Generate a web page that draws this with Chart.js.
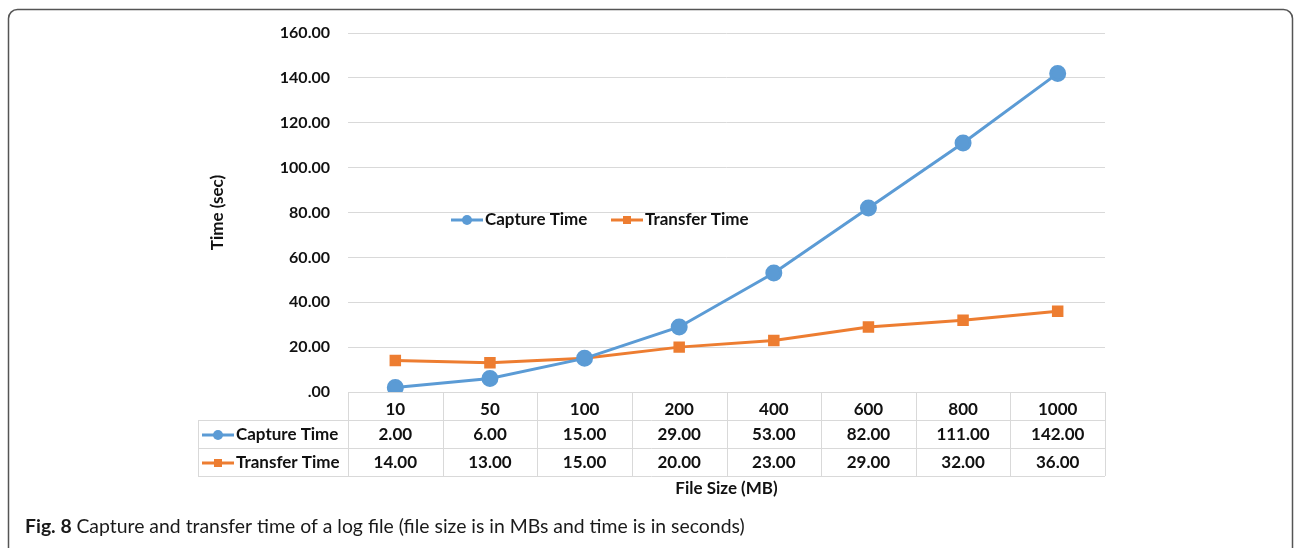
<!DOCTYPE html>
<html>
<head>
<meta charset="utf-8">
<script src="https://cdn.jsdelivr.net/npm/chart.js@4/dist/chart.umd.min.js"></script>
<style>
  body { margin: 0; background: #fff; }
  canvas { display: block; }
</style>
</head>
<body>
<canvas id="timeChart" width="1294" height="548"></canvas>
<script>
// chart data
const fileSizes = ['10', '50', '100', '200', '400', '600', '800', '1000'];
const captureTime = [2, 6, 15, 29, 53, 82, 111, 142];
const transferTime = [14, 13, 15, 20, 23, 29, 32, 36];
const yTicks = [0, 20, 40, 60, 80, 100, 120, 140, 160];

const BLUE = '#5B9BD5';
const ORANGE = '#ED7D31';
const FONT = 'Lato, "Noto Sans", sans-serif';

function fmt(v) {
    return v === 0 ? '.00' : v.toFixed(2);
}

// small legend key: line with marker in the middle
function drawKey(ctx, x, y, ds) {
    ctx.save();
    ctx.strokeStyle = ds.borderColor;
    ctx.lineWidth = 3;
    ctx.beginPath();
    ctx.moveTo(x, y);
    ctx.lineTo(x + 32, y);
    ctx.stroke();
    ctx.fillStyle = ds.borderColor;
    if (ds.pointStyle === 'circle') {
        ctx.beginPath();
        ctx.arc(x + 16, y, 5, 0, Math.PI * 2);
        ctx.fill();
    } else {
        ctx.fillRect(x + 12, y - 4, 8, 8);
    }
    ctx.restore();
}

const tablePlugin = {
    id: 'tablePlugin',
    beforeDraw(chart) {
        const ctx = chart.ctx;
        ctx.save();
        ctx.fillStyle = '#fff';
        ctx.fillRect(0, 0, chart.width, chart.height);
        // outer frame
        ctx.strokeStyle = '#555';
        ctx.lineWidth = 1.5;
        ctx.beginPath();
        ctx.roundRect(8.5, 9.5, 1284, 560, 9);
        ctx.stroke();
        ctx.restore();
    },
    afterDraw(chart) {
        const ctx = chart.ctx;
        const area = chart.chartArea;
        const x = chart.scales.x;
        const half = (x.getPixelForValue(1) - x.getPixelForValue(0)) / 2;
        const rowH = 28;
        const top = area.bottom;
        const labelLeft = 198;

        ctx.save();
        ctx.strokeStyle = '#d9d9d9';
        ctx.lineWidth = 1;
        ctx.beginPath();
        ctx.moveTo(area.left, top + 0.5);
        ctx.lineTo(area.right, top + 0.5);
        for (let r = 1; r <= 3; r++) {
            const yy = Math.round(top + r * rowH) + 0.5;
            ctx.moveTo(labelLeft, yy);
            ctx.lineTo(area.right, yy);
        }
        ctx.moveTo(labelLeft + 0.5, top + rowH);
        ctx.lineTo(labelLeft + 0.5, top + 3 * rowH);
        for (let i = 0; i <= fileSizes.length; i++) {
            const xx = Math.round(x.getPixelForValue(0) - half + i * 2 * half) + 0.5;
            ctx.moveTo(xx, top);
            ctx.lineTo(xx, top + 3 * rowH);
        }
        ctx.stroke();

        // value rows
        ctx.fillStyle = '#111';
        ctx.font = 'bold 17px ' + FONT;
        ctx.textBaseline = 'middle';
        chart.data.datasets.forEach((ds, r) => {
            const cy = top + (r + 1.5) * rowH + 1;
            ctx.textAlign = 'center';
            ds.data.forEach((v, i) => {
                ctx.fillText(fmt(v), x.getPixelForValue(i), cy);
            });
            drawKey(ctx, labelLeft + 4, cy, ds);
            ctx.textAlign = 'left';
            ctx.fillText(ds.label, labelLeft + 38, cy);
        });

        // legend inside plot
        const ly = 220;
        const items = [{ ds: chart.data.datasets[0], x: 451 }, { ds: chart.data.datasets[1], x: 611 }];
        items.forEach(it => {
            drawKey(ctx, it.x, ly, it.ds);
            ctx.textAlign = 'left';
            ctx.fillText(it.ds.label, it.x + 34, ly);
        });

        // caption
        ctx.textAlign = 'left';
        ctx.textBaseline = 'alphabetic';
        ctx.fillStyle = '#1a1a1a';
        ctx.font = 'bold 19.4px ' + FONT;
        ctx.fillText('Fig. 8', 25, 533);
        const w = ctx.measureText('Fig. 8 ').width;
        ctx.font = '19.4px ' + FONT;
        ctx.fillText('Capture and transfer time of a log file (file size is in MBs and time is in seconds)', 25 + w, 533);
        ctx.restore();
    }
};

new Chart(document.getElementById('timeChart').getContext('2d'), {
    type: 'line',
    data: {
        labels: fileSizes,
        datasets: [{
            label: 'Capture Time',
            data: captureTime,
            borderColor: BLUE,
            backgroundColor: BLUE,
            borderWidth: 3,
            pointStyle: 'circle',
            pointRadius: 7,
            pointHoverRadius: 7,
            tension: 0
        }, {
            label: 'Transfer Time',
            data: transferTime,
            borderColor: ORANGE,
            backgroundColor: ORANGE,
            borderWidth: 3,
            pointStyle: 'rect',
            pointRadius: 6,
            pointHoverRadius: 6,
            tension: 0
        }]
    },
    options: {
        responsive: false,
        animation: false,
        layout: { padding: { left: 203, right: 189, top: 33, bottom: 45 } },
        plugins: { legend: { display: false }, tooltip: { enabled: false } },
        scales: {
            x: {
                offset: true,
                grid: { display: false },
                border: { display: false },
                ticks: { color: '#111', font: { family: FONT, size: 17, weight: 'bold' }, padding: -1, maxRotation: 0 },
                title: { display: true, text: 'File Size (MB)', color: '#111', font: { family: FONT, size: 17, weight: 'bold' } },
                afterFit(scale) { scale.height = 111; }
            },
            y: {
                min: 0,
                max: 160,
                afterBuildTicks(scale) { scale.ticks = yTicks.map(v => ({ value: v })); },
                grid: { color: '#d9d9d9', drawTicks: false },
                border: { display: false },
                ticks: { color: '#111', font: { family: FONT, size: 16, weight: 'bold' }, padding: 18, callback: v => fmt(v) },
                title: { display: true, text: 'Time (sec)', color: '#111', font: { family: FONT, size: 17, weight: 'bold' } },
                afterFit(scale) { scale.width = 145; }
            }
        }
    },
    plugins: [tablePlugin]
});
</script>
</body>
</html>
